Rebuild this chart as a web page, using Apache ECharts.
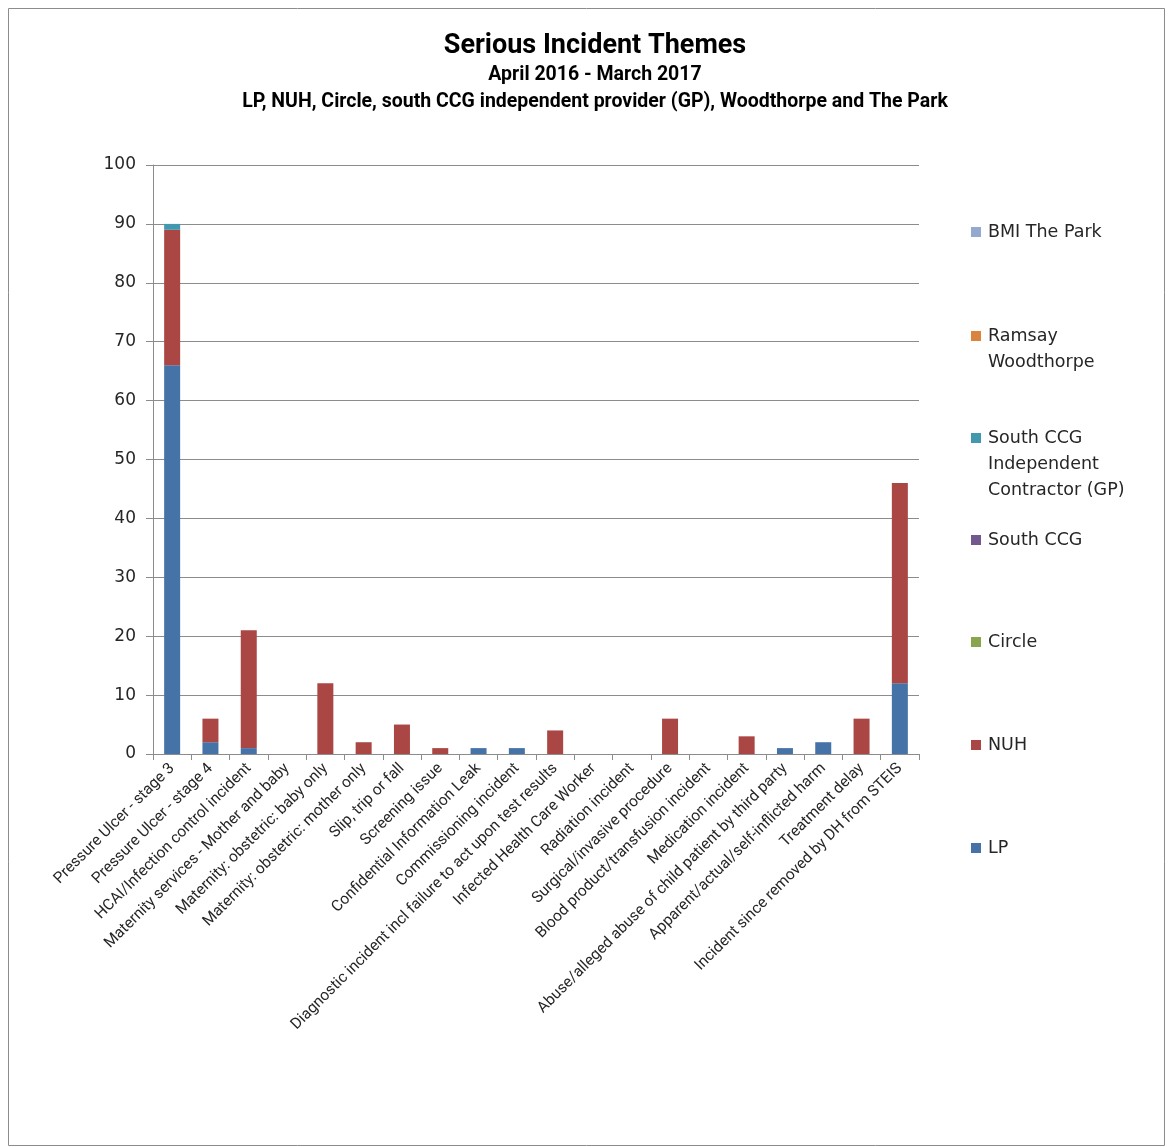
<!DOCTYPE html>
<html>
<head>
<meta charset="utf-8">
<title>Serious Incident Themes</title>
<script src="https://cdn.jsdelivr.net/npm/echarts@6/dist/echarts.min.js"></script>
<style>
  html, body { margin: 0; padding: 0; background: #fff; }
  #chart { width: 1173px; height: 1147px; }
</style>
</head>
<body>
<div id="chart"></div>
<script>
// Incident themes (x-axis categories)
const categories = [
  'Pressure Ulcer - stage 3',
  'Pressure Ulcer - stage 4',
  'HCAI/Infection control incident',
  'Maternity services - Mother and baby',
  'Maternity: obstetric: baby only',
  'Maternity: obstetric: mother only',
  'Slip, trip or fall',
  'Screening issue',
  'Confidential Information Leak',
  'Commissioning incident',
  'Diagnostic incident incl failure to act upon test results',
  'Infected Health Care Worker',
  'Radiation incident',
  'Surgical/invasive procedure',
  'Blood product/transfusion incident',
  'Medication incident',
  'Abuse/alleged abuse of child patient by third party',
  'Apparent/actual/self-inflicted harm',
  'Treatment delay',
  'Incident since removed by DH from STEIS'
];

// Incident counts per provider, one value per theme
const lp        = [66, 2, 1, 0, 0, 0, 0, 0, 1, 1, 0, 0, 0, 0, 0, 0, 1, 2, 0, 12];
const nuh       = [23, 4, 20, 0, 12, 2, 5, 1, 0, 0, 4, 0, 0, 6, 0, 3, 0, 0, 6, 34];
const circle    = [0, 0, 0, 0, 0, 0, 0, 0, 0, 0, 0, 0, 0, 0, 0, 0, 0, 0, 0, 0];
const southCcg  = [0, 0, 0, 0, 0, 0, 0, 0, 0, 0, 0, 0, 0, 0, 0, 0, 0, 0, 0, 0];
const southGp   = [1, 0, 0, 0, 0, 0, 0, 0, 0, 0, 0, 0, 0, 0, 0, 0, 0, 0, 0, 0];
const ramsay    = [0, 0, 0, 0, 0, 0, 0, 0, 0, 0, 0, 0, 0, 0, 0, 0, 0, 0, 0, 0];
const bmiPark   = [0, 0, 0, 0, 0, 0, 0, 0, 0, 0, 0, 0, 0, 0, 0, 0, 0, 0, 0, 0];

// Y axis range
const yMin = 0;
const yMax = 100;
const yStep = 10;

const seriesDefs = [
  { name: 'LP', data: lp, color: '#4572A7' },
  { name: 'NUH', data: nuh, color: '#AA4643' },
  { name: 'Circle', data: circle, color: '#89A54E' },
  { name: 'South CCG', data: southCcg, color: '#71588F' },
  { name: 'South CCG\nIndependent\nContractor (GP)', data: southGp, color: '#4198AF' },
  { name: 'Ramsay\nWoodthorpe', data: ramsay, color: '#DB843D' },
  { name: 'BMI The Park', data: bmiPark, color: '#93A9CF' }
];

// Legend entries, top to bottom, with the y of each marker
const legendRows = [
  { idx: 6, y: 232 },
  { idx: 5, y: 336 },
  { idx: 4, y: 438 },
  { idx: 3, y: 540 },
  { idx: 2, y: 642 },
  { idx: 1, y: 745 },
  { idx: 0, y: 848 }
];

// Multi-line entries keep their marker beside the first line: blank lines
// are prepended so the first real line sits at the vertical centre.
const LINE_H = 26;
const legends = legendRows.map(r => {
  const name = seriesDefs[r.idx].name;
  const lines = name.split('\n').length;
  const total = 2 * lines - 1;
  const boxH = total * LINE_H;
  return {
    orient: 'vertical',
    left: 971,
    top: r.y - boxH / 2,
    padding: 0,
    icon: 'rect',
    itemWidth: 10,
    itemHeight: 10,
    selectedMode: false,
    data: [name],
    formatter: n => '\n'.repeat(n.split('\n').length - 1) + n,
    textStyle: {
      fontFamily: 'DejaVu Sans',
      fontSize: 17.5,
      color: '#262626',
      lineHeight: LINE_H,
      padding: [0, 0, 0, 2]
    }
  };
});

const chart = echarts.init(document.getElementById('chart'), null, { renderer: 'canvas' });

chart.setOption({
  backgroundColor: '#ffffff',
  animation: false,
  title: {
    text: 'Serious Incident Themes',
    subtext: 'April 2016 - March 2017\nLP, NUH, Circle, south CCG independent provider (GP), Woodthorpe and The Park',
    left: 590,
    textAlign: 'center',
    top: 26,
    itemGap: 1,
    textStyle: {
      fontFamily: 'Roboto',
      fontWeight: 'bold',
      fontSize: 27,
      lineHeight: 30,
      color: '#000'
    },
    subtextStyle: {
      fontFamily: 'Roboto',
      fontWeight: 'bold',
      fontSize: 19.5,
      lineHeight: 27,
      color: '#000',
      align: 'center'
    }
  },
  legend: legends,
  grid: {
    left: 153,
    right: 254,
    top: 165,
    bottom: 393,
    containLabel: false
  },
  xAxis: {
    type: 'category',
    data: categories,
    axisLine: { show: true, lineStyle: { color: '#8c8c8c', width: 1 } },
    axisTick: { show: true, length: 6, lineStyle: { color: '#8c8c8c' } },
    axisLabel: {
      interval: 0,
      rotate: 45,
      margin: 12,
      fontFamily: 'Roboto',
      fontSize: 15.5,
      color: '#262626'
    }
  },
  yAxis: {
    type: 'value',
    min: yMin,
    max: yMax,
    interval: yStep,
    axisLine: { show: true, lineStyle: { color: '#8c8c8c', width: 1 } },
    axisTick: { show: true, length: 7, lineStyle: { color: '#8c8c8c' } },
    axisLabel: {
      margin: 17,
      fontFamily: 'DejaVu Sans',
      fontSize: 17,
      color: '#262626'
    },
    splitLine: { show: true, lineStyle: { color: '#8c8c8c', width: 1 } }
  },
  series: seriesDefs.map(s => ({
    name: s.name,
    type: 'bar',
    stack: 'total',
    barWidth: 16,
    data: s.data,
    itemStyle: { color: s.color },
    emphasis: { disabled: true }
  })),
  graphic: [{
    type: 'rect',
    silent: true,
    shape: { x: 8.5, y: 8.5, width: 1156, height: 1137 },
    style: { fill: 'none', stroke: '#8c8c8c', lineWidth: 1 }
  }]
});
</script>
</body>
</html>
